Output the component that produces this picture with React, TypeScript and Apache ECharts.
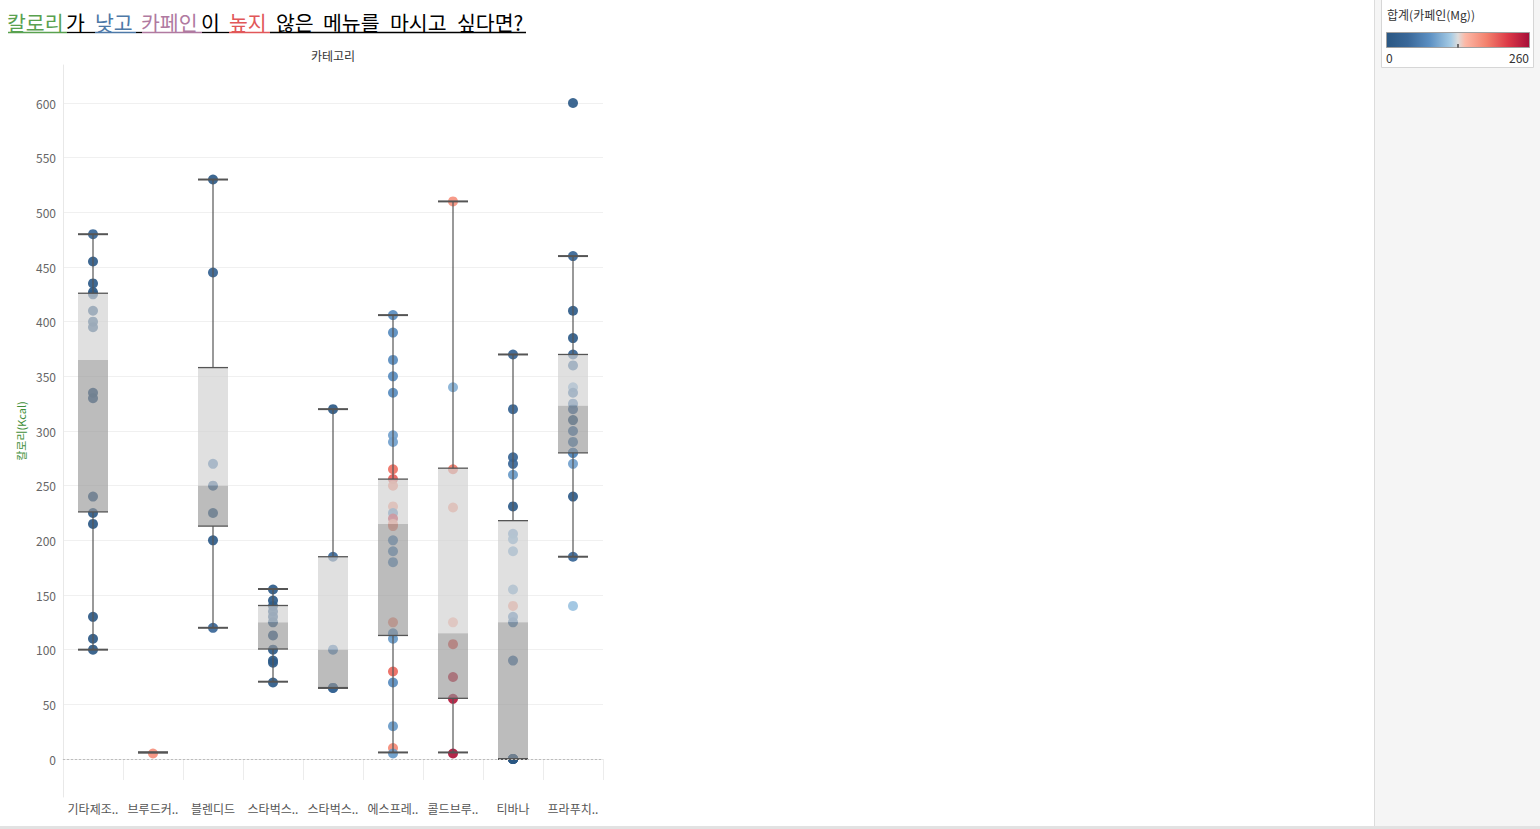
import React, { useEffect, useRef } from "react";
import * as echarts from "echarts";

// ---------- data ----------
const categories = [
  "기타제조음료",
  "브루드커피",
  "블렌디드",
  "스타벅스리프레셔",
  "스타벅스피지오",
  "에스프레소",
  "콜드브루커피",
  "티바나",
  "프라푸치노",
];

// calories (Kcal) and caffeine (Mg) per drink, per category
const otherCal = [480, 455, 435, 427, 425, 410, 400, 395, 335, 330, 240, 225, 215, 130, 110, 100];
const otherCaf = [30, 10, 10, 5, 10, 10, 15, 10, 10, 10, 10, 10, 5, 5, 5, 5];
const brewedCal = [5];
const brewedCaf = [172];
const blendedCal = [530, 445, 270, 250, 225, 200, 120];
const blendedCaf = [10, 25, 60, 40, 20, 10, 35];
const refresherCal = [155, 145, 140, 135, 130, 125, 113, 100, 90, 88, 70];
const refresherCaf = [10, 10, 15, 20, 20, 15, 10, 10, 10, 10, 10];
const fizzioCal = [320, 185, 100, 65, 65];
const fizzioCaf = [5, 40, 70, 30, 30];
const espressoCal = [406, 390, 365, 350, 335, 296, 290, 265, 256, 250, 231, 225, 220, 215, 213, 200, 190, 180, 125, 115, 110, 80, 70, 30, 10, 5];
const espressoCaf = [75, 75, 75, 75, 75, 90, 90, 190, 200, 170, 160, 75, 235, 170, 170, 75, 75, 75, 170, 75, 85, 195, 75, 85, 175, 85];
const coldBrewCal = [510, 340, 265, 230, 125, 105, 75, 55, 5];
const coldBrewCaf = [170, 100, 185, 160, 150, 200, 235, 250, 255];
const teavanaCal = [370, 320, 276, 270, 260, 231, 206, 201, 190, 155, 140, 130, 125, 90, 0, 0, 0, 0, 0];
const teavanaCaf = [25, 25, 30, 35, 85, 10, 90, 95, 95, 95, 160, 70, 60, 50, 0, 0, 0, 0, 0];
const frapCal = [600, 460, 410, 385, 370, 360, 340, 335, 325, 320, 310, 300, 290, 280, 280, 270, 240, 185, 140];
const frapCaf = [10, 30, 10, 10, 25, 45, 100, 55, 60, 45, 5, 55, 60, 65, 75, 90, 10, 35, 112];

const caloriesByCat = [otherCal, brewedCal, blendedCal, refresherCal, fizzioCal, espressoCal, coldBrewCal, teavanaCal, frapCal];
const caffeineByCat = [otherCaf, brewedCaf, blendedCaf, refresherCaf, fizzioCaf, espressoCaf, coldBrewCaf, teavanaCaf, frapCaf];

// box plot statistics
const whiskerLow = [100, 6, 120, 70.7, 65, 6, 6, 0, 185];
const q1 = [226, 6, 213, 100.6, 65, 113, 55.5, 0.3, 280];
const median = [365, 6, 250, 125, 100, 215, 115, 125, 323];
const q3 = [426, 6, 358, 140.4, 185, 256, 266, 218, 370];
const whiskerHigh = [480, 6, 530, 155.5, 320, 406, 510, 370, 460];

const caffeineRange = [0, 260];

// ---------- colour scale ----------
const paletteStops: [number, string][] = [
  [0, "#2a5783"],
  [0.15, "#3a6899"],
  [0.3, "#5b8fc2"],
  [0.45, "#a5cbe5"],
  [0.5, "#dcdcdc"],
  [0.55, "#fcb8a6"],
  [0.7, "#f3816d"],
  [0.85, "#dc3947"],
  [1, "#a50d38"],
];

function hexToRgb(h: string) {
  const n = parseInt(h.slice(1), 16);
  return [(n >> 16) & 255, (n >> 8) & 255, n & 255];
}
function caffeineColor(v: number) {
  const t = Math.max(0, Math.min(1, (v - caffeineRange[0]) / (caffeineRange[1] - caffeineRange[0])));
  for (let i = 1; i < paletteStops.length; i++) {
    const [p1, c1] = paletteStops[i];
    const [p0, c0] = paletteStops[i - 1];
    if (t <= p1) {
      const f = (t - p0) / (p1 - p0 || 1);
      const a = hexToRgb(c0);
      const b = hexToRgb(c1);
      const r = a.map((x, k) => Math.round(x + (b[k] - x) * f));
      return `rgb(${r[0]},${r[1]},${r[2]})`;
    }
  }
  return paletteStops[paletteStops.length - 1][1];
}

const FONT = "'Noto Sans CJK KR', 'Noto Sans', sans-serif";

// title runs
const titleRuns = [
  { text: "칼로리", color: "#59a14f" },
  { text: "가", color: "#000000" },
  { text: "낮고", color: "#4e79a7" },
  { text: "카페인", color: "#b07aa1" },
  { text: "이", color: "#000000" },
  { text: "높지", color: "#e15759" },
  { text: "않은", color: "#000000" },
  { text: "메뉴를", color: "#000000" },
  { text: "마시고", color: "#000000" },
  { text: "싶다면?", color: "#000000" },
];
const titleRunX = [7, 66, 95, 141, 201, 229, 276, 323, 390, 457];
const underlineSegs: [number, number, string][] = [
  [8, 67, "#59a14f"],
  [67, 95, "#000000"],
  [95, 136, "#4e79a7"],
  [136, 142, "#000000"],
  [142, 202, "#b07aa1"],
  [202, 229, "#000000"],
  [229, 270, "#e15759"],
  [270, 526, "#000000"],
];

function buildOption() {
  const scatterData: any[] = [];
  caloriesByCat.forEach((cals, i) => {
    cals.forEach((c, j) => {
      const caf = caffeineByCat[i][j];
      scatterData.push({ value: [i, c, caf], itemStyle: { color: caffeineColor(caf) } });
    });
  });
  const boxData = categories.map((_, i) => [i, whiskerLow[i], q1[i], median[i], q3[i], whiskerHigh[i]]);

  const pxPerUnit = (759 - 103) / 600;
  const yMax = (759 - 65) / pxPerUnit;
  const yMin = (759 - 797) / pxPerUnit;

  const graphics: any[] = [];
  // right side panel
  graphics.push({ type: "rect", shape: { x: 1374, y: 0, width: 166, height: 826 }, style: { fill: "#f5f5f5" }, z: -10 });
  graphics.push({ type: "line", shape: { x1: 1374.5, y1: 0, x2: 1374.5, y2: 826 }, style: { stroke: "#dcdcdc", lineWidth: 1 } });
  graphics.push({ type: "rect", shape: { x: 1381.5, y: -1, width: 152, height: 68.5 }, style: { fill: "#ffffff", stroke: "#d6d6d6", lineWidth: 1 } });
  graphics.push({
    type: "text",
    x: 1387,
    y: 14.5,
    style: { text: "합계(카페인(Mg))", fill: "#333", font: `12px ${FONT}`, textAlign: "left", textVerticalAlign: "middle", align: "left", verticalAlign: "middle" },
  });
  graphics.push({
    type: "rect",
    shape: { x: 1386.5, y: 32.5, width: 143, height: 15 },
    style: {
      fill: new echarts.graphic.LinearGradient(0, 0, 1, 0, paletteStops.map(([o, c]) => ({ offset: o, color: c }))),
      stroke: "#a0a0a0",
      lineWidth: 1,
    },
  });
  graphics.push({ type: "line", shape: { x1: 1458, y1: 44, x2: 1458, y2: 47.5 }, style: { stroke: "#000", lineWidth: 1 } });
  graphics.push({
    type: "text",
    x: 1386,
    y: 57.5,
    style: { text: String(caffeineRange[0]), fill: "#333", font: `12px ${FONT}`, textAlign: "left", textVerticalAlign: "middle", align: "left", verticalAlign: "middle" },
  });
  graphics.push({
    type: "text",
    x: 1529,
    y: 57.5,
    style: { text: String(caffeineRange[1]), fill: "#333", font: `12px ${FONT}`, textAlign: "right", textVerticalAlign: "middle", align: "right", verticalAlign: "middle" },
  });
  // bottom border
  graphics.push({ type: "rect", shape: { x: 0, y: 826, width: 1540, height: 3 }, style: { fill: "#e2e2e2" } });
  // title
  titleRuns.forEach((r, i) => {
    graphics.push({
      type: "text",
      x: titleRunX[i],
      y: 21.5,
      style: { text: r.text, fill: r.color, font: `20.5px ${FONT}`, textAlign: "left", textVerticalAlign: "middle", align: "left", verticalAlign: "middle" },
    });
  });
  underlineSegs.forEach(([a, b, c]) => {
    graphics.push({ type: "line", shape: { x1: a, y1: 32.5, x2: b, y2: 32.5 }, style: { stroke: c, lineWidth: 1.3 } });
  });
  // column header
  graphics.push({
    type: "text",
    x: 333,
    y: 55,
    style: { text: "카테고리", fill: "#333", font: `12px ${FONT}`, textAlign: "center", textVerticalAlign: "middle", align: "center", verticalAlign: "middle" },
  });

  return {
    animation: false,
    textStyle: { fontFamily: FONT },
    grid: { left: 63, right: 1540 - 603, top: 65, bottom: 829 - 797, containLabel: false },
    xAxis: {
      type: "category",
      data: categories,
      boundaryGap: true,
      axisLine: { show: true, lineStyle: { color: "#e8e8e8", width: 1 } },
      axisTick: { show: true, length: 21, lineStyle: { color: "#ececec" } },
      axisLabel: {
        color: "#555",
        fontSize: 12,
        margin: 5,
        interval: 0,
        formatter: (v: string) => (v.length > 4 ? v.slice(0, 4) + ".." : v),
      },
      splitLine: { show: false },
    },
    yAxis: {
      type: "value",
      min: yMin,
      max: yMax,
      minInterval: 50,
      maxInterval: 50,
      splitNumber: 13,
      name: "칼로리(Kcal)",
      nameLocation: "middle",
      nameGap: 37,
      nameTextStyle: { color: "#3f8f3a", fontSize: 11 },
      axisLine: { show: true, lineStyle: { color: "#e8e8e8" } },
      axisTick: { show: false },
      axisLabel: { color: "#666", fontSize: 12, margin: 7, showMinLabel: false, showMaxLabel: false },
      splitLine: { show: true, showMinLine: false, showMaxLine: false, lineStyle: { color: "#f0f0f0", width: 1 } },
    },
    graphic: { elements: graphics },
    series: [
      {
        type: "scatter",
        data: scatterData,
        symbolSize: 10,
        itemStyle: { opacity: 0.92 },
        z: 2,
        markLine: {
          silent: true,
          symbol: "none",
          label: { show: false },
          lineStyle: { color: "#bdbdbd", type: [2, 2], width: 1 },
          data: [{ yAxis: 0 }],
        },
      },
      {
        type: "custom",
        z: 3,
        data: boxData,
        encode: { x: 0, y: [1, 2, 3, 4, 5] },
        renderItem: (params: any, api: any) => {
          const xi = api.value(0);
          const pLow = api.coord([xi, api.value(1)]);
          const pQ1 = api.coord([xi, api.value(2)]);
          const pMed = api.coord([xi, api.value(3)]);
          const pQ3 = api.coord([xi, api.value(4)]);
          const pHigh = api.coord([xi, api.value(5)]);
          const bw = api.size([1, 0])[0] * 0.5;
          const cx = pLow[0];
          const l = cx - bw / 2;
          const r = cx + bw / 2;
          const children: any[] = [];
          const dark = "#555555";
          if (pQ1[1] - pQ3[1] > 0.5) {
            children.push({
              type: "rect",
              shape: { x: l, y: pQ3[1], width: bw, height: pMed[1] - pQ3[1] },
              style: { fill: "rgba(209,209,209,0.67)" },
            });
            children.push({
              type: "rect",
              shape: { x: l, y: pMed[1], width: bw, height: pQ1[1] - pMed[1] },
              style: { fill: "rgba(150,150,150,0.64)" },
            });
            children.push({ type: "line", shape: { x1: l, y1: pQ3[1], x2: r, y2: pQ3[1] }, style: { stroke: dark, lineWidth: 1.3 } });
            children.push({ type: "line", shape: { x1: l, y1: pQ1[1], x2: r, y2: pQ1[1] }, style: { stroke: dark, lineWidth: 1.3 } });
          }
          children.push({ type: "line", shape: { x1: cx, y1: pQ3[1], x2: cx, y2: pHigh[1] }, style: { stroke: dark, lineWidth: 1.2 } });
          children.push({ type: "line", shape: { x1: cx, y1: pLow[1], x2: cx, y2: pQ1[1] }, style: { stroke: dark, lineWidth: 1.2 } });
          children.push({ type: "line", shape: { x1: l, y1: pHigh[1], x2: r, y2: pHigh[1] }, style: { stroke: dark, lineWidth: 2 } });
          children.push({ type: "line", shape: { x1: l, y1: pLow[1], x2: r, y2: pLow[1] }, style: { stroke: dark, lineWidth: 2 } });
          return { type: "group", children };
        },
      },
    ],
  };
}

export default function App() {
  const ref = useRef<HTMLDivElement>(null);
  useEffect(() => {
    if (!ref.current) return;
    const chart = echarts.init(ref.current, null, { renderer: "svg" });
    chart.setOption(buildOption() as any);
    return () => chart.dispose();
  }, []);
  return (
    <div
      ref={ref}
      style={{ position: "absolute", left: 0, top: 0, width: 1540, height: 829, background: "#ffffff" }}
    />
  );
}
